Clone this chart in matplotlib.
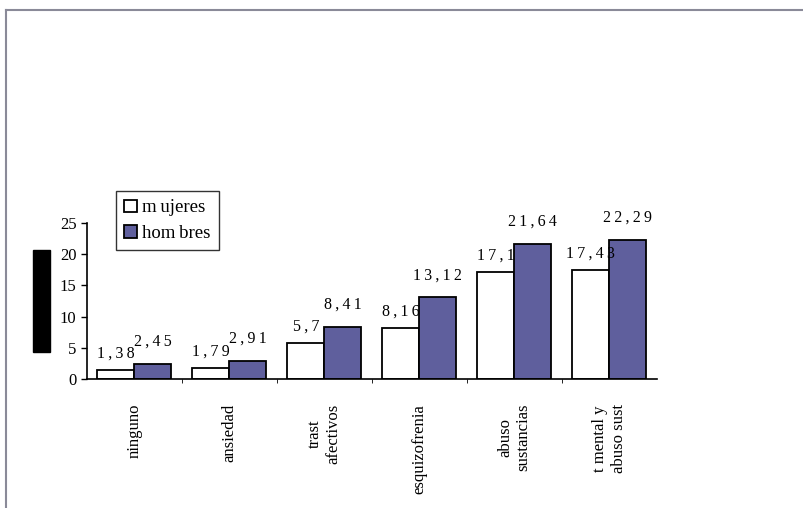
import numpy as np
import matplotlib.pyplot as plt
from matplotlib.patches import Rectangle
from matplotlib.lines import Line2D

categorias = ['ninguno', 'ansiedad', 'trast\nafectivos', 'esquizofrenia',
              'abuso\nsustancias', 't mental y\nabuso sust']
mujeres = [1.38, 1.79, 5.7, 8.16, 17.1, 17.43]
hombres = [2.45, 2.91, 8.41, 13.12, 21.64, 22.29]
etiquetas_m = ['1,38', '1,79', '5,7', '8,16', '17,1', '17,43']
etiquetas_h = ['2,45', '2,91', '8,41', '13,12', '21,64', '22,29']

plt.rcParams['font.family'] = ['Liberation Serif', 'DejaVu Serif']
THIN = '\u2009'


def espaciado(t):
    return THIN.join(t)


fig = plt.figure(figsize=(8.04, 5.08), dpi=100)
ax = fig.add_axes([0.108, 0.254, 0.709, 0.307])

x = np.arange(len(categorias))
w = 0.39
ax.bar(x - w / 2, mujeres, w, color='white', edgecolor='black', linewidth=1.3, label='mujeres')
ax.bar(x + w / 2, hombres, w, color='#5f5f9d', edgecolor='black', linewidth=1.3, label='hombres')

# value labels (spaced-out like the original)
for xi, v, t in zip(x, mujeres, etiquetas_m):
    ax.annotate(espaciado(t), (xi - w / 2, v), xytext=(0, 6), textcoords='offset points',
                ha='center', va='bottom', fontsize=11.5)
for xi, v, t in zip(x, hombres, etiquetas_h):
    ax.annotate(espaciado(t), (xi + w / 2, v), xytext=(0, 10), textcoords='offset points',
                ha='center', va='bottom', fontsize=11.5)

ax.set_xlim(-0.5, len(categorias) - 0.5)
ax.set_ylim(0, 25)
ax.set_yticks([0, 5, 10, 15, 20, 25])
ax.tick_params(axis='y', labelsize=12, length=4, width=1)
ax.set_xticks(x)
ax.set_xticklabels(categorias, rotation=90, fontsize=12, va='top', ha='center', multialignment='center')
ax.tick_params(axis='x', length=0, pad=18)
ax.set_xticks(np.arange(0.5, len(categorias) - 0.5), minor=True)
ax.tick_params(axis='x', which='minor', length=3, direction='out')

for s in ['top', 'right']:
    ax.spines[s].set_visible(False)
for s in ['left', 'bottom']:
    ax.spines[s].set_linewidth(1.2)

leg = ax.legend(loc='upper left', bbox_to_anchor=(0.051, 1.205), borderaxespad=0,
                fontsize=13.5, frameon=True, fancybox=False, handlelength=0.65, handleheight=0.65,
                handletextpad=0.3, borderpad=0.45, labelspacing=0.45)
leg.get_frame().set_edgecolor('black')
leg.get_frame().set_linewidth(1.0)
for txt in leg.get_texts():
    txt.set_text(txt.get_text().replace('m', 'm' + THIN))

# outer frame and black block on the left
fig.add_artist(Line2D([6 / 804, 1.0], [1 - 10 / 508, 1 - 10 / 508], color='#8a8a98', lw=1.5))
fig.add_artist(Line2D([6 / 804, 6 / 804], [0, 1 - 10 / 508], color='#8a8a98', lw=1.5))
fig.add_artist(Rectangle((33 / 804, 1 - 352 / 508), 17 / 804, 102 / 508,
                         transform=fig.transFigure, color='black'))

fig.savefig('out.png', dpi=100)
